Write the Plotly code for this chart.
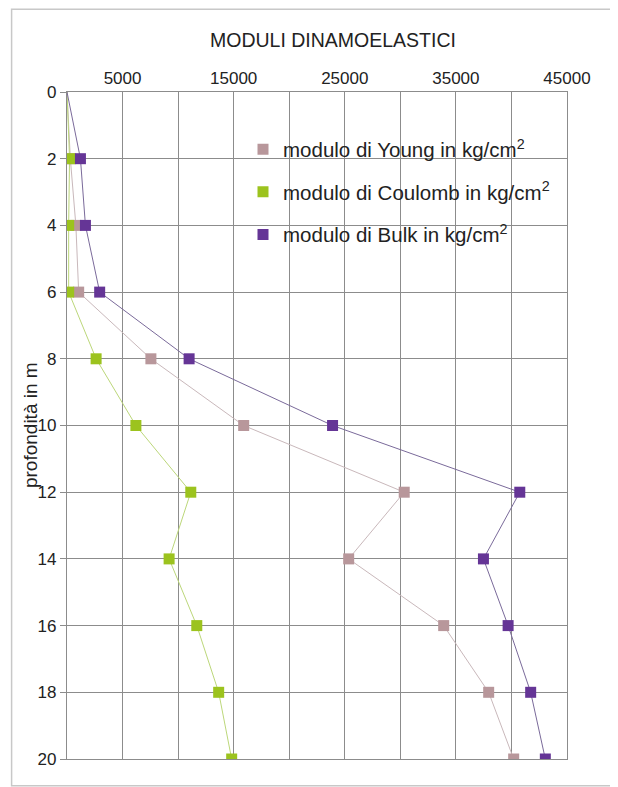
import plotly.graph_objects as go

depth = [0, 2, 4, 6, 8, 10, 12, 14, 16, 18, 20]
young = [0, 300, 800, 1050, 7550, 15900, 30350, 25350, 33900, 37950, 40200]
coulomb = [0, 230, 150, 150, 2620, 6200, 11140, 9190, 11680, 13650, 14820]
bulk = [0, 1210, 1660, 2940, 10990, 23900, 40750, 37480, 39700, 41730, 43050]

names = ["modulo di Young in kg/cm<sup>2</sup>",
         "modulo di Coulomb in kg/cm<sup>2</sup>",
         "modulo di Bulk in kg/cm<sup>2</sup>"]
x_tickvals = [0, 5000, 10000, 15000, 20000, 25000, 30000, 35000, 40000, 45000]
x_ticktext = ["", "5000", "", "15000", "", "25000", "", "35000", "", "45000"]
y_tickvals = [0, 2, 4, 6, 8, 10, 12, 14, 16, 18, 20]

marker_colors = ["#b8979b", "#9cc31e", "#653596"]
line_colors = ["#c9b8bb", "#bcd77a", "#7a6a9a"]

fig = go.Figure()
series = [young, coulomb, bulk]
for i, vals in enumerate(series):
    fig.add_trace(go.Scatter(x=vals, y=depth, mode="lines",
                             line=dict(color=line_colors[i], width=1),
                             showlegend=False, hoverinfo="skip"))
for i, vals in enumerate(series):
    fig.add_trace(go.Scatter(x=vals[1:], y=depth[1:], mode="markers", name=names[i],
                             marker=dict(symbol="square", size=11, color=marker_colors[i]),
                             legendgroup=str(i)))

font = "Liberation Sans, Arial, sans-serif"
fig.update_layout(
    width=610, height=779,
    margin=dict(l=58.5, r=50.5, t=84, b=27.7, autoexpand=False),
    paper_bgcolor="white", plot_bgcolor="white",
    font=dict(family=font, size=16, color="#222222"),
    showlegend=True,
    legend=dict(x=0.352, y=0.944, xanchor="left", yanchor="top",
                bgcolor="rgba(0,0,0,0)", font=dict(size=20.5, color="#222222"),
                tracegroupgap=13, itemwidth=30),
    annotations=[dict(text="MODULI DINAMOELASTICI", xref="paper", yref="paper",
                      x=0.532, y=1.078, xanchor="center", yanchor="middle",
                      showarrow=False, font=dict(size=19.5, color="#222222")),
                 dict(text="profondità in m", xref="paper", yref="paper",
                      x=-0.0729, y=0.50, xanchor="center", yanchor="middle",
                      textangle=-90, showarrow=False,
                      font=dict(size=19, color="#222222"))],
    shapes=[dict(type="rect", xref="paper", yref="paper",
                 x0=-0.1108, x1=1.0968, y0=-0.040, y1=1.124,
                 line=dict(color="#c8c8c8", width=1.5), layer="below")],
)
fig.update_xaxes(side="top", range=[0, 45000], tickvals=x_tickvals, ticktext=x_ticktext,
                 showgrid=True, gridcolor="#8c8c8c", gridwidth=1.3,
                 showline=True, linecolor="#8c8c8c", linewidth=1.3, mirror=True,
                 zeroline=False, ticks="", tickfont=dict(size=17))
fig.update_yaxes(range=[20, 0], tickvals=y_tickvals,
                 showgrid=True, gridcolor="#8c8c8c", gridwidth=1.3,
                 showline=True, linecolor="#8c8c8c", linewidth=1.3, mirror=True,
                 zeroline=False, ticks="outside", ticklen=6, tickcolor="#8c8c8c",
                 tickfont=dict(size=17))

fig.write_html("out.html")
